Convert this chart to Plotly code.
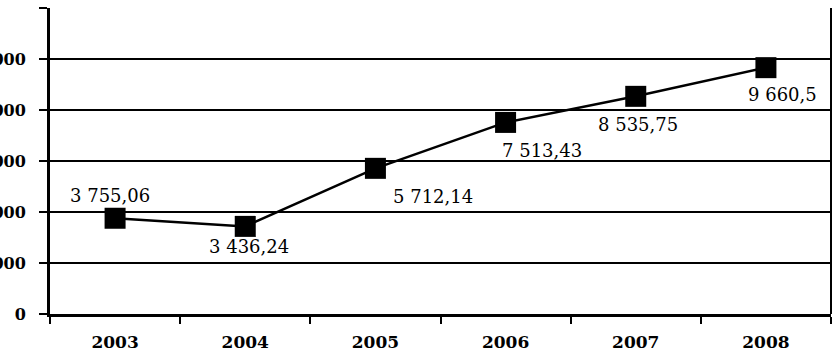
import plotly.graph_objects as go

years = ["2003", "2004", "2005", "2006", "2007", "2008"]
values = [3755.06, 3436.24, 5712.14, 7513.43, 8535.75, 9660.5]
labels = ["3 755,06", "3 436,24", "5 712,14", "7 513,43", "8 535,75", "9 660,5"]
# label offsets from the marker, in pixels (styling)
label_dx = [-5, 4, 58, 36, 2, 17]
label_dy = [23, -20, -28, -28, -28, -27]
y_ticks = [0, 2000, 4000, 6000, 8000, 10000, 12000]
y_tick_text = ["0", "2 000", "4 000", "6 000", "8 000", "10 000", "12 000"]

fig = go.Figure()
fig.add_trace(go.Scatter(
    x=years, y=values, mode="lines+markers",
    line=dict(color="black", width=2.5),
    marker=dict(symbol="square", size=21, color="black"),
    cliponaxis=False, showlegend=False, hoverinfo="skip",
))

for i, (yv, t, dx, dy) in enumerate(zip(values, labels, label_dx, label_dy)):
    fig.add_annotation(x=i, y=yv, text=t, showarrow=False, xshift=dx, yshift=dy,
                       xanchor="center", yanchor="middle",
                       font=dict(family="DejaVu Serif", size=18, color="black"))

fig.update_layout(
    width=834, height=352,
    margin=dict(l=50, r=3, t=8, b=38),
    paper_bgcolor="white", plot_bgcolor="white",
    font=dict(family="DejaVu Serif", color="black"),
)
fig.update_xaxes(
    type="category", tickson="boundaries", ticks="outside", ticklen=7, tickwidth=2,
    tickcolor="black", showline=True, linecolor="black", linewidth=3,
    showgrid=False, tickfont=dict(size=17, family="DejaVu Serif", weight="bold"),
    range=[-0.5, 5.5], automargin=False, ticklabelstandoff=11,
)
fig.update_yaxes(
    range=[0, 12000], tickvals=y_ticks, ticktext=y_tick_text,
    ticks="outside", ticklen=8, tickwidth=2, tickcolor="black",
    showline=True, linecolor="black", linewidth=3,
    showgrid=True, gridcolor="black", gridwidth=2, zeroline=False,
    tickfont=dict(size=16, family="DejaVu Serif", weight="bold"),
    automargin=False, ticklabelstandoff=10,
)
fig.add_shape(type="line", xref="paper", yref="paper", x0=1, x1=1, y0=0, y1=1,
              line=dict(color="black", width=2))
fig.write_html("out.html", config={"displayModeBar": False},
               post_script="document.body.style.margin='0';")
